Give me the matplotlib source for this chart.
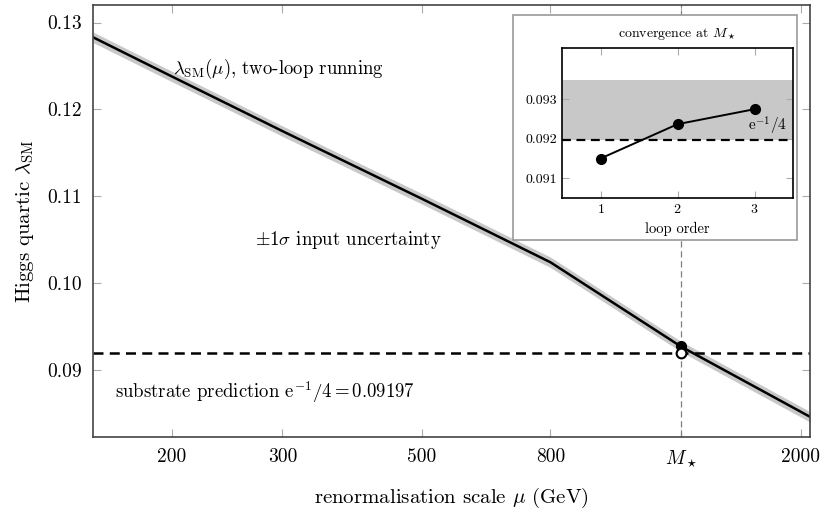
import matplotlib
matplotlib.use("Agg")
import matplotlib.pyplot as plt
from matplotlib.patches import Rectangle
from matplotlib.ticker import FixedLocator, FixedFormatter, NullLocator

plt.rcParams['font.family'] = 'serif'
plt.rcParams['font.serif'] = ['cmr10', 'DejaVu Serif']
plt.rcParams['mathtext.fontset'] = 'cm'
plt.rcParams['axes.formatter.use_mathtext'] = True

# data
mu = [150, 200, 300, 500, 800, 1290, 2070]
lam = [0.1283, 0.1238, 0.1175, 0.1097, 0.1024, 0.0927, 0.0846]
band = 0.0006
m_star = 1290
lam_star_2loop = 0.0928
target = 0.09197
xticks = [200, 300, 500, 800, m_star, 2000]
xticklabels = ['200', '300', '500', '800', r'$M_\star$', '2000']
loops = [1, 2, 3]
lam_loops = [0.0915, 0.09237, 0.09275]
inset_band = [0.09197, 0.0935]

fig = plt.figure(figsize=(8.31, 5.14), dpi=100)
ax = fig.add_axes([0.112, 0.150, 0.863, 0.840])
ax.set_xscale('log')
lo = [l - band for l in lam]
hi = [l + band for l in lam]
ax.fill_between(mu, lo, hi, color='#c8c8c8', lw=0)
ax.plot(mu, lam, color='black', lw=1.8)
ax.axhline(target, color='black', ls=(0, (4, 2.5)), lw=1.8)
ax.axvline(m_star, color='gray', ls=(0, (5, 3)), lw=0.9)
ax.plot([m_star], [lam_star_2loop], 'o', color='black', ms=7)
ax.plot([m_star], [target], 'o', mfc='white', mec='black', mew=1.5, ms=7)
ax.set_xlim(150, 2070)
ax.set_ylim(0.0823, 0.132)
ax.xaxis.set_major_locator(FixedLocator(xticks))
ax.xaxis.set_major_formatter(FixedFormatter(xticklabels))
ax.xaxis.set_minor_locator(NullLocator())
ax.set_yticks([0.09, 0.10, 0.11, 0.12, 0.13])
ax.set_yticklabels(['0.09', '0.10', '0.11', '0.12', '0.13'])
ax.tick_params(direction='in', top=True, right=True, color='#aaaaaa', length=6, labelsize=14, pad=8)
for s in ax.spines.values():
    s.set_color('#444444'); s.set_linewidth(1.2)
ax.set_xlabel(r'renormalisation scale $\mu$ (GeV)', fontsize=15, labelpad=12)
ax.set_ylabel(r'Higgs quartic $\lambda_{\rm SM}$', fontsize=15, labelpad=8)
ax.text(0.112, 0.852, r'$\lambda_{\rm SM}(\mu)$, two-loop running', transform=ax.transAxes, fontsize=13.5, va='center')
ax.text(0.226, 0.455, r'$\pm1\sigma$ input uncertainty', transform=ax.transAxes, fontsize=13.5, va='center')
ax.text(0.03, 0.104, r'substrate prediction e$^{-1}/4 = 0.09197$', transform=ax.transAxes, fontsize=13.5, va='center')

# inset frame
fig.patches.append(Rectangle((513/831, 1-240/514), 284/831, 225/514, transform=fig.transFigure,
                             facecolor='white', edgecolor='#999999', lw=1.2, zorder=5))
ia = fig.add_axes([562/831, 1-198/514, 231/831, 150/514], zorder=6)
ia.axhspan(inset_band[0], inset_band[1], color='#c8c8c8', lw=0)
ia.axhline(target, color='black', ls=(0, (4, 2.5)), lw=1.6)
ia.plot(loops, lam_loops, '-o', color='black', lw=1.4, ms=7)
ia.set_xlim(0.5, 3.5)
ia.set_ylim(0.0905, 0.0943)
ia.set_xticks(loops)
ia.set_yticks([0.091, 0.092, 0.093])
ia.set_yticklabels(['0.091', '0.092', '0.093'])
ia.tick_params(direction='in', top=True, right=True, color='#aaaaaa', length=5, labelsize=10)
ia.set_xlabel('loop order', fontsize=10.5)
ia.set_title(r'convergence at $M_\star$', fontsize=10, pad=8)
ia.text(3.42, 0.09205, r'e$^{-1}/4$', ha='right', va='bottom', fontsize=11)
for s in ia.spines.values():
    s.set_linewidth(1.2)

fig.savefig('out.png', dpi=100)
